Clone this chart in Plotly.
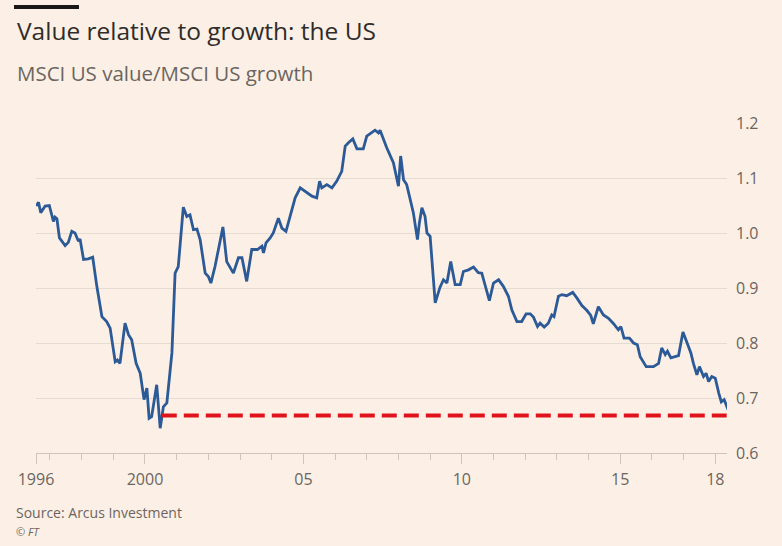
import plotly.graph_objects as go

# ---- data ----
years = [1996.56, 1996.64, 1996.71, 1996.85, 1996.98, 1997.06, 1997.11, 1997.16, 1997.22, 1997.30,
         1997.48, 1997.58, 1997.69, 1997.79, 1997.90, 1997.95, 1998.06, 1998.21, 1998.35, 1998.48,
         1998.64, 1998.79, 1998.90, 1999.06, 1999.13, 1999.21, 1999.37, 1999.48, 1999.58, 1999.72,
         1999.85, 1999.97, 2000.06, 2000.13, 2000.21, 2000.37, 2000.48, 2000.58, 2000.69, 2000.85,
         2000.95, 2001.05, 2001.21, 2001.32, 2001.42, 2001.53, 2001.64, 2001.74, 2001.90, 2002.00,
         2002.08, 2002.21, 2002.46, 2002.58, 2002.79, 2002.95, 2003.06, 2003.21, 2003.37, 2003.55,
         2003.69, 2003.74, 2003.82, 2003.95, 2004.05, 2004.21, 2004.32, 2004.45, 2004.58, 2004.74,
         2004.90, 2005.05, 2005.27, 2005.42, 2005.51, 2005.58, 2005.74, 2005.90, 2006.05, 2006.21,
         2006.32, 2006.42, 2006.56, 2006.69, 2006.89, 2007.00, 2007.16, 2007.26, 2007.37, 2007.42,
         2007.63, 2007.84, 2008.00, 2008.07, 2008.16, 2008.26, 2008.47, 2008.60, 2008.66, 2008.74,
         2008.84, 2008.90, 2009.00, 2009.16, 2009.31, 2009.42, 2009.53, 2009.65, 2009.79, 2009.95,
         2010.05, 2010.21, 2010.37, 2010.52, 2010.63, 2010.77, 2010.87, 2011.00, 2011.16, 2011.31,
         2011.47, 2011.58, 2011.74, 2011.89, 2012.03, 2012.16, 2012.26, 2012.39, 2012.47, 2012.60,
         2012.73, 2012.84, 2012.91, 2013.05, 2013.16, 2013.31, 2013.50, 2013.63, 2013.79, 2013.95,
         2014.07, 2014.15, 2014.31, 2014.47, 2014.63, 2014.79, 2014.94, 2015.02, 2015.12, 2015.29,
         2015.42, 2015.54, 2015.63, 2015.82, 2016.05, 2016.21, 2016.31, 2016.42, 2016.49, 2016.60,
         2016.73, 2016.84, 2016.98, 2017.12, 2017.23, 2017.31, 2017.42, 2017.50, 2017.63, 2017.71,
         2017.79, 2017.89, 2018.00, 2018.11, 2018.19, 2018.28, 2018.37, 2018.47]

ratio = [1.049, 1.056, 1.037, 1.049, 1.050, 1.034, 1.021, 1.029, 1.026, 0.991,
         0.977, 0.983, 1.003, 1.000, 0.985, 0.989, 0.952, 0.953, 0.956, 0.903,
         0.848, 0.839, 0.827, 0.766, 0.769, 0.763, 0.836, 0.815, 0.806, 0.763,
         0.745, 0.697, 0.718, 0.663, 0.666, 0.724, 0.645, 0.684, 0.691, 0.782,
         0.927, 0.939, 1.047, 1.030, 1.033, 1.006, 1.007, 0.988, 0.927, 0.921,
         0.909, 0.939, 1.011, 0.948, 0.927, 0.955, 0.955, 0.912, 0.970, 0.970,
         0.976, 0.964, 0.982, 0.991, 1.000, 1.027, 1.009, 1.003, 1.030, 1.064,
         1.082, 1.076, 1.067, 1.064, 1.094, 1.082, 1.088, 1.082, 1.094, 1.112,
         1.158, 1.164, 1.171, 1.153, 1.153, 1.176, 1.182, 1.187, 1.182, 1.187,
         1.155, 1.128, 1.085, 1.140, 1.097, 1.088, 1.037, 0.988, 1.018, 1.046,
         1.030, 1.000, 0.994, 0.873, 0.901, 0.915, 0.909, 0.948, 0.906, 0.906,
         0.930, 0.933, 0.938, 0.928, 0.927, 0.900, 0.877, 0.909, 0.915, 0.903,
         0.885, 0.860, 0.839, 0.839, 0.853, 0.853, 0.847, 0.830, 0.836, 0.829,
         0.836, 0.851, 0.848, 0.885, 0.888, 0.886, 0.892, 0.882, 0.868, 0.859,
         0.850, 0.835, 0.866, 0.851, 0.845, 0.835, 0.824, 0.830, 0.809, 0.809,
         0.800, 0.797, 0.775, 0.757, 0.757, 0.763, 0.791, 0.779, 0.785, 0.773,
         0.775, 0.777, 0.820, 0.800, 0.782, 0.763, 0.742, 0.757, 0.739, 0.745,
         0.730, 0.739, 0.736, 0.709, 0.693, 0.697, 0.684, 0.669]

threshold_years = [2000.53, 2018.36]
threshold_level = [0.668, 0.668]

x_tick_vals = [1996.56, 2000, 2005, 2010, 2015, 2018]
x_tick_text = ["1996", "2000", "05", "10", "15", "18"]
x_minor_vals = list(range(1997, 2019))
y_tick_vals = [0.6, 0.7, 0.8, 0.9, 1.0, 1.1, 1.2]
y_tick_text = ["0.6", "0.7", "0.8", "0.9", "1.0", "1.1", "1.2"]

title = "Value relative to growth: the US"
subtitle = "MSCI US value/MSCI US growth"
source = "Source: Arcus Investment"
credit = "© FT"

# ---- styling ----
BG = "#fcf0e6"
GRID = "#e6dbd1"
AXIS = "#cfc4ba"
TEXT = "#6b6560"
FONT = "Open Sans"

W, H = 782, 546
L, R, T, B = 36, 55, 123, 93
PW, PH = W - L - R, H - T - B


def px_x(px):
    return (px - L) / PW


def px_y(py):
    return (H - B - py) / PH


fig = go.Figure()
fig.add_trace(go.Scatter(x=years, y=ratio, mode="lines",
                         line=dict(color="#2c5a97", width=2.8),
                         cliponaxis=False, hoverinfo="skip"))
fig.add_trace(go.Scatter(x=threshold_years, y=threshold_level, mode="lines",
                         line=dict(color="#e0121c", width=4, dash="15px,7px"),
                         cliponaxis=False, hoverinfo="skip"))

fig.update_layout(
    width=W, height=H,
    margin=dict(l=L, r=R, t=T, b=B, pad=0),
    paper_bgcolor=BG, plot_bgcolor=BG,
    showlegend=False,
    font=dict(family=FONT, color=TEXT, size=15),
    xaxis=dict(range=[1996.56, 2018.37], showgrid=False, zeroline=False,
               showline=True, linecolor=AXIS, linewidth=1,
               tickmode="array", tickvals=x_tick_vals, ticktext=x_tick_text,
               ticks="outside", ticklen=10, tickcolor=AXIS, tickwidth=1,
               ticklabelstandoff=2,
               tickfont=dict(family=FONT, size=16, color=TEXT),
               minor=dict(tickmode="array", tickvals=x_minor_vals, ticks="outside",
                          ticklen=6, tickcolor=AXIS, tickwidth=1, showgrid=False)),
    yaxis=dict(range=[0.6, 1.2], side="right", showgrid=True, gridcolor=GRID,
               gridwidth=1, zeroline=False, showline=False,
               tickmode="array", tickvals=y_tick_vals, ticktext=y_tick_text,
               ticks="", ticklabelstandoff=8,
               tickfont=dict(family=FONT, size=16, color=TEXT)),
)

fig.add_shape(type="rect", xref="paper", yref="paper",
              x0=px_x(14), x1=px_x(79), y0=px_y(9), y1=px_y(5),
              fillcolor="#1a1817", line=dict(width=0))

fig.add_annotation(text=title, xref="paper", yref="paper", x=px_x(15), y=px_y(30),
                   xanchor="left", yanchor="middle", showarrow=False,
                   font=dict(family=FONT, size=24.5, color="#2f2c2a"))
fig.add_annotation(text=subtitle, xref="paper", yref="paper", x=px_x(15), y=px_y(73),
                   xanchor="left", yanchor="middle", showarrow=False,
                   font=dict(family=FONT, size=20.5, color=TEXT))
fig.add_annotation(text=source, xref="paper", yref="paper", x=px_x(14), y=px_y(512),
                   xanchor="left", yanchor="middle", showarrow=False,
                   font=dict(family=FONT, size=14, color=TEXT))
fig.add_annotation(text="<i>" + credit + "</i>", xref="paper", yref="paper", x=px_x(14), y=px_y(531),
                   xanchor="left", yanchor="middle", showarrow=False,
                   font=dict(family=FONT, size=11, color=TEXT))

fig.write_html("out.html",
               config={"displayModeBar": False},
               post_script="document.body.style.margin='0';document.body.style.overflow='hidden';")
